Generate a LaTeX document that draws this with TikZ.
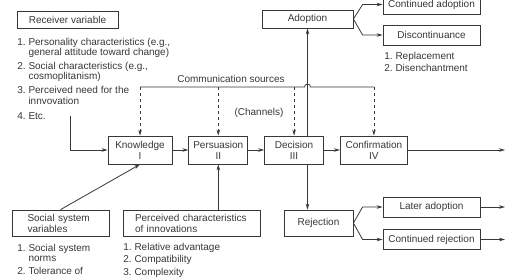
\documentclass[tikz,border=0pt]{standalone}
\usepackage{fontspec}
\setmainfont{Liberation Sans}
\usetikzlibrary{arrows.meta,positioning}
\definecolor{ink}{HTML}{383838}
\tikzset{pin/.style={-{Stealth[length=6pt,width=3.5pt]}},
  box/.style={draw, inner sep=0pt, minimum width=97pt, minimum height=20pt},
  stage/.style={box, minimum height=28pt, align=center},
  items/.style={inner sep=0pt, anchor=base west, font=\fontsize{10}{10}\selectfont}}

\begin{document}
\begin{tikzpicture}[x=1pt, y=-1pt, color=ink, line width=0.8pt,
  font=\fontsize{10}{11}\selectfont]
  \clip (0,0) rectangle (529,277);
  \fill[white] (0,0) rectangle (529,277);
  % stages
  \node[stage, minimum width=64pt] (know) at (140,150) {Knowledge\\I};
  \node[stage, minimum width=59pt, right=16pt of know] (pers) {Persuasion\\II};
  \node[stage, minimum width=59pt, right=16pt of pers] (dec) {Decision\\III};
  \node[stage, minimum width=67pt, right=16pt of dec] (conf) {Confirmation\\IV};
  \coordinate (out1) at (505,150);
  \draw[pin] (know) -- (pers);
  \draw[pin] (pers) -- (dec);
  \draw[pin] (dec) -- (conf);
  \draw[pin] (conf) -- (out1);
  % receiver
  \node[box, minimum width=101pt, minimum height=17pt] (recv) at (67.5,19.5) {Receiver variable};
  \node[items] (recvlist) at (17,45) {\begin{tabular}[t]{@{}l@{\ }l@{}}
    1.&Personality characteristics (e.g.,\\
    &general attitude toward change)\\[4pt]
    2.&Social characteristics (e.g.,\\
    &cosmoplitanism)\\[4pt]
    3.&Perceived need for the\\
    &innvovation\\[5pt]
    4.&Etc.
  \end{tabular}};
  \coordinate (rvtail) at (70,116);
  \draw[pin] (rvtail) |- (know.west);
  % outcomes
  \node[box, minimum width=91pt, minimum height=18pt] (adopt) at (307.5,19) {Adoption};
  \node[box, minimum height=19pt] (contad) at (431.5,4.5) {Continued adoption};
  \node[box] (discont) at (431.5,35) {Discontinuance};
  \node[items] (discontlist) at (384,59) {\begin{tabular}[t]{@{}l@{\ }l@{}}
    1.&Replacement\\[2pt]
    2.&Disenchantment
  \end{tabular}};
  \node[box, minimum width=69pt, minimum height=26pt] (rej) at (318.5,223) {Rejection};
  \node[box] (later) at (431.5,207) {Later adoption};
  \node[box] (contrej) at (431.5,239.5) {Continued rejection};
  \coordinate (out2) at (505,207);
  \coordinate (out3) at (505,239.5);
  \draw[pin] (adopt.east) -- ([xshift=-20pt]contad.west) -- (contad.west);
  \draw[pin] (adopt.east) -- ([xshift=-20pt]discont.west) -- (discont.west);
  \draw[pin] (rej.east) -- ([xshift=-20pt]later.west) -- (later.west);
  \draw[pin] (rej.east) -- ([xshift=-20pt]contrej.west) -- (contrej.west);
  \draw[pin] (later) -- (out2);
  \draw[pin] (contrej) -- (out3);
  % communication sources
  \coordinate (bus) at (0,87);
  \coordinate (hop) at (adopt.south |- bus);
  \node[anchor=base, inner sep=0pt] (comm) at (231,82) {Communication sources};
  \node[inner sep=0pt] (chan) at (259,113) {(Channels)};
  \draw (know.north |- bus) -- ([xshift=-3pt]hop)
    arc[start angle=180, end angle=0, radius=3pt] -- (conf.north |- bus);
  \draw[pin, dashed] (know.north |- bus) -- (know.north);
  \draw[pin, dashed] (pers.north |- bus) -- (pers.north);
  \draw[pin, dashed] (dec.north |- bus) -- (dec.north);
  \draw[pin, dashed] (conf.north |- bus) -- (conf.north);
  \draw[pin] (dec.north -| hop) -- (adopt.south);
  \draw[pin] (dec.south -| hop) -- (rej.north -| hop);
  % system and innovation
  \node[box, align=left, text width=66pt, inner xsep=8.5pt, minimum height=26pt] (social) at (60.5,223) {Social system\\variables};
  \node[box, align=left, text width=113pt, inner xsep=12pt, minimum height=26pt] (perc) at (191.5,223) {Perceived characteristics\\of innovations};
  \draw[pin] (social.north) -- (know.south);
  \draw[pin] (perc.north -| pers.south) -- (pers.south);
  \node[items] (sociallist) at (17,251) {\begin{tabular}[t]{@{}l@{\ }l@{}}
    1.&Social system\\
    &norms\\[3pt]
    2.&Tolerance of
  \end{tabular}};
  \node[items] (perclist) at (123,250.5) {\begin{tabular}[t]{@{}l@{\ }l@{}}
    1.&Relative advantage\\[2pt]
    2.&Compatibility\\[2pt]
    3.&Complexity
  \end{tabular}};
\end{tikzpicture}
\end{document}
